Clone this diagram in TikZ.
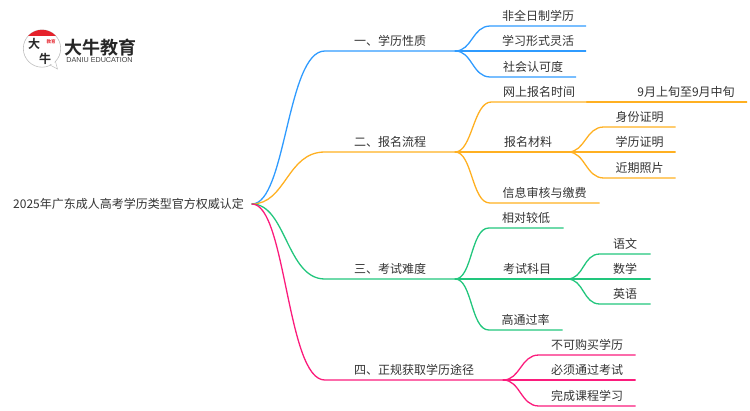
\documentclass[tikz,border=0pt]{standalone}
\usepackage{fontspec}
\setmainfont{Noto Sans CJK SC}
\newfontfamily\logofont{Noto Sans CJK SC Bold}
\newfontfamily\latinlogo{Liberation Sans}
\definecolor{cblue}{HTML}{2F9BFF}
\definecolor{corange}{HTML}{FFB021}
\definecolor{cgreen}{HTML}{22C67D}
\definecolor{cpink}{HTML}{FB1C7C}
\definecolor{ctext}{HTML}{333333}
\definecolor{clogored}{HTML}{E5222B}
\tikzset{
  x=1pt,y=-1pt,
  lab/.style={inner sep=0pt,minimum height=19pt,anchor=south,text=ctext,font=\fontsize{12}{12}\selectfont},
  conn/.style={line width=1.3pt,line cap=round},
  bluel/.style={conn,draw=cblue},
  orangel/.style={conn,draw=corange},
  greenl/.style={conn,draw=cgreen},
  pinkl/.style={conn,draw=cpink},
}
\begin{document}
\begin{tikzpicture}
\useasboundingbox (0,0) rectangle (750,410);
% logo
\fill[white,draw=black!25,line width=0.6pt] (42,48.5) circle (18.7);
\begin{scope}
\clip (42,48.5) circle (18.7);
\fill[clogored] (22,29) rectangle (62,36);
\end{scope}
\fill[white,draw=black!25,line width=0.5pt] (50,65) -- (57.5,69) -- (55.5,61.5) -- cycle;
\fill[white] (49,63) -- (55,60) -- (54,65) -- cycle;
\node[inner sep=0pt,text=black!85,font=\logofont\fontsize{12}{12}\selectfont] (logoa) at (34,44) {大};
\node[inner sep=0pt,text=black!85,font=\logofont\fontsize{12}{12}\selectfont] (logob) at (45,58.5) {牛};
\node[inner sep=0pt,text=clogored,font=\logofont\fontsize{4.5}{4.5}\selectfont,align=center] (logoc) at (51,41.5) {教育};
\node[inner sep=0pt,text=black!85,font=\logofont\fontsize{18}{18}\selectfont] (logot) at (100,48) {大牛教育};
\node[inner sep=0pt,text=black!75,font=\latinlogo\fontsize{7.2}{7.2}\selectfont] (logos) at (99.5,60.5) {DANIU EDUCATION};
% root
\node[lab,minimum width=247pt] (root) at (128.5,214) {2025年广东成人高考学历类型官方权威认定};
\coordinate (r) at (252,204);
% level 1
\node[lab,minimum width=130pt] (b1) at (390,51) {一、学历性质};
\node[lab,minimum width=130pt] (b2) at (390,152) {二、报名流程};
\node[lab,minimum width=130pt] (b3) at (390,279) {三、考试难度};
\node[lab,minimum width=178pt] (b4) at (414,380) {四、正规获取学历途径};
\draw[bluel] (r) .. controls +(34,0) and +(-38,0) .. (b1.south west) -- (b1.south east);
\draw[orangel] (r) .. controls +(34,0) and +(-38,0) .. (b2.south west) -- (b2.south east);
\draw[greenl] (r) .. controls +(34,0) and +(-38,0) .. (b3.south west) -- (b3.south east);
\draw[pinkl] (r) .. controls +(34,0) and +(-38,0) .. (b4.south west) -- (b4.south east);
% branch 1
\node[lab,minimum width=95pt] (a1) at (538,26) {非全日制学历};
\node[lab,minimum width=95pt] (a2) at (538,51) {学习形式灵活};
\node[lab,minimum width=85pt] (a3) at (533,77) {社会认可度};
\foreach \n in {a1,a2,a3}
  \draw[bluel] (b1.south east) .. controls +(17,0) and +(-18,0) .. (\n.south west) -- (\n.south east);
% branch 2
\node[lab,minimum width=95pt] (c1) at (539,102) {网上报名时间};
\node[lab,minimum width=121pt] (c1a) at (686,102) {9月上旬至9月中旬};
\node[lab,minimum width=80pt] (c2) at (528,152) {报名材料};
\node[lab,minimum width=109pt] (c3) at (544.5,203) {信息审核与缴费};
\foreach \n in {c1,c2,c3}
  \draw[orangel] (b2.south east) .. controls +(17,0) and +(-18,0) .. (\n.south west) -- (\n.south east);
\draw[orangel] (c1.south east) .. controls +(17,0) and +(-18,0) .. (c1a.south west) -- (c1a.south east);
\node[lab,minimum width=71pt] (c21) at (639.5,127) {身份证明};
\node[lab,minimum width=71pt] (c22) at (639.5,152) {学历证明};
\node[lab,minimum width=71pt] (c23) at (639.5,178) {近期照片};
\foreach \n in {c21,c22,c23}
  \draw[orangel] (c2.south east) .. controls +(17,0) and +(-18,0) .. (\n.south west) -- (\n.south east);
% branch 3
\node[lab,minimum width=74pt] (d1) at (526,228) {相对较低};
\node[lab,minimum width=80pt] (d2) at (527,279) {考试科目};
\node[lab,minimum width=73pt] (d3) at (525.5,330) {高通过率};
\foreach \n in {d1,d2,d3}
  \draw[greenl] (b3.south east) .. controls +(17,0) and +(-18,0) .. (\n.south west) -- (\n.south east);
\node[lab,minimum width=50pt] (d21) at (625,254) {语文};
\node[lab,minimum width=50pt] (d22) at (625,279) {数学};
\node[lab,minimum width=50pt] (d23) at (625,304) {英语};
\foreach \n in {d21,d22,d23}
  \draw[greenl] (d2.south east) .. controls +(17,0) and +(-17,0) .. (\n.south west) -- (\n.south east);
% branch 4
\node[lab,minimum width=96pt] (e1) at (587,355) {不可购买学历};
\node[lab,minimum width=96pt] (e2) at (587,380) {必须通过考试};
\node[lab,minimum width=96pt] (e3) at (587,406) {完成课程学习};
\foreach \n in {e1,e2,e3}
  \draw[pinkl] (b4.south east) .. controls +(17,0) and +(-18,0) .. (\n.south west) -- (\n.south east);
\end{tikzpicture}
\end{document}
